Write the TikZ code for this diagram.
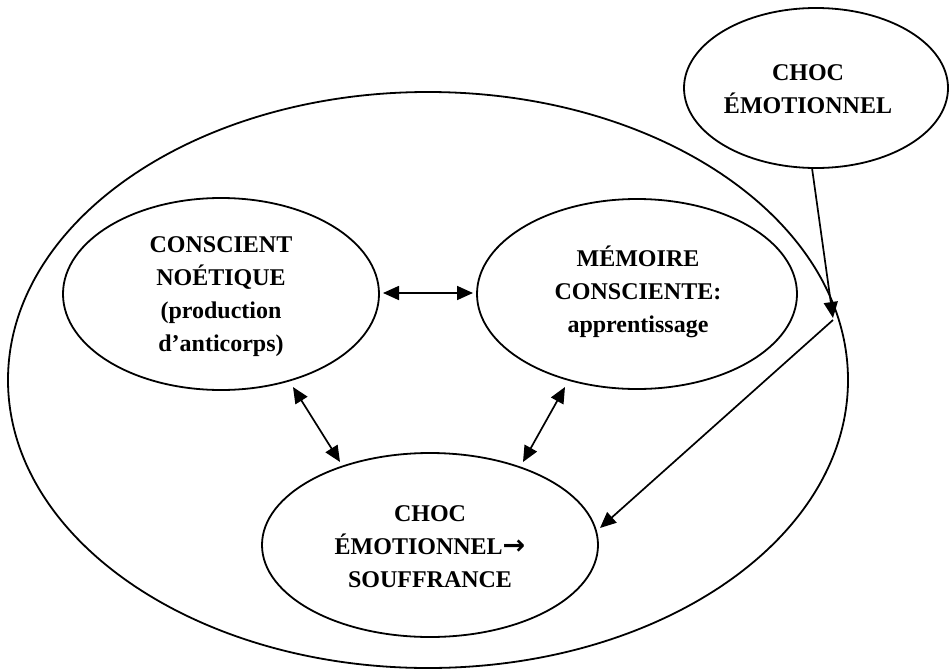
\documentclass[tikz,border=0pt]{standalone}
\usepackage{fontspec}
\setmainfont{Liberation Serif}
\newfontfamily\arrfont{DejaVu Sans}
\usetikzlibrary{arrows.meta}
\begin{document}
\begin{tikzpicture}[x=1pt,y=-1pt,
  every node/.style={font=\bfseries\fontsize{24}{33}\selectfont, align=center, inner sep=0pt},
  oval/.style={draw, line width=1.8pt},
  tip/.tip={Triangle[length=16pt,width=14pt]},
  conn/.style={line width=1.7pt, -tip},
  dbl/.style={line width=1.7pt, tip-tip}]
\useasboundingbox (0,0) rectangle (951,672);
% outer ellipse
\draw[oval] (428,380) ellipse [x radius=420, y radius=288];
% ellipses
\draw[oval] (816,88) ellipse [x radius=132, y radius=80];
\draw[oval] (221,294) ellipse [x radius=158, y radius=96];
\draw[oval] (637,294) ellipse [x radius=160, y radius=95];
\draw[oval] (430,545) ellipse [x radius=168, y radius=92];
% texts
\node (T) at (808,89) {CHOC\\ÉMOTIONNEL};
\node (L) at (221,297) {CONSCIENT\\NOÉTIQUE\\(production\\d’anticorps)};
\node (M) at (638,292) {MÉMOIRE\\CONSCIENTE:\\apprentissage};
\node (B) at (430,547) {CHOC\\ÉMOTIONNEL{\arrfont\bfseries\fontsize{27}{33}\selectfont →}\\SOUFFRANCE};
% anchor points
\coordinate (t1) at (812,168);
\coordinate (j) at (833,318);
\coordinate (j2) at (833,320);
\coordinate (b1) at (600,528);
\coordinate (la) at (383,293);
\coordinate (ma) at (473,293);
\coordinate (ld1) at (293,387);
\coordinate (ld2) at (340,462);
\coordinate (rd1) at (565,387);
\coordinate (rd2) at (523,462);
% connectors
\draw[conn] (t1) -- (j);
\draw[conn] (j2) -- (b1);
\draw[dbl] (la) -- (ma);
\draw[dbl] (ld1) -- (ld2);
\draw[dbl] (rd1) -- (rd2);
\end{tikzpicture}
\end{document}
